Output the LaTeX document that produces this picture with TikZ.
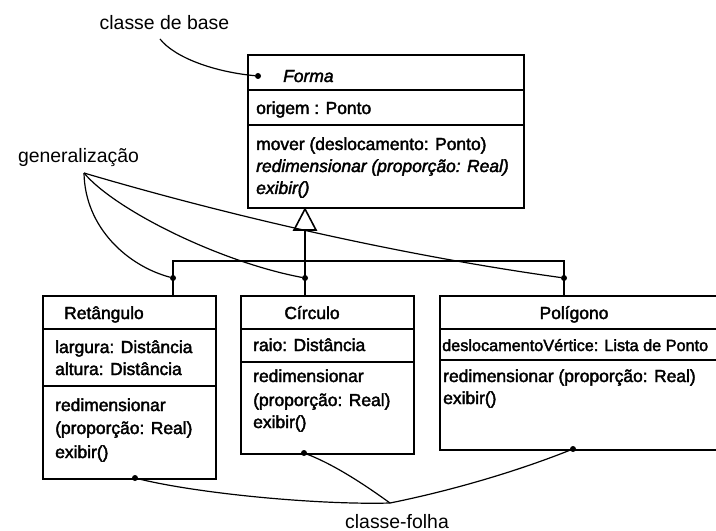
\documentclass[tikz,border=0pt]{standalone}
\usepackage{fontspec}
\setmainfont{Liberation Sans}
\newfontfamily\boxfont[FakeBold=2.2]{Liberation Sans}
\begin{document}
\begin{tikzpicture}[x=1bp,y=-1bp,
  box/.style={draw, line width=1.8bp, inner sep=0pt, anchor=north west},
  sep/.style={line width=1.4bp},
  conn/.style={line width=1.2bp},
  bar/.style={line width=1.8bp},
  dotm/.style={circle, fill, inner sep=0pt, minimum size=6bp},
  txt/.style={font=\boxfont\fontsize{17.5}{22}\selectfont, inner sep=0pt, anchor=base west},
  ttl/.style={font=\boxfont\fontsize{17.5}{22}\selectfont, inner sep=0pt, anchor=base},
  lbl/.style={font=\fontsize{19.5}{22}\selectfont, inner sep=0pt, anchor=base}]
\clip (0,0) rectangle (716,531);

% ---- Forma
\node[box, minimum width=276bp, minimum height=153bp] (forma) at (247,54) {};
\draw[sep] (247,90) -- (523,90);
\draw[sep] (247,125) -- (523,125);
\node[dotm] (dotF) at (258,76) {};
\node[txt] (tForma) at (283,82) {\itshape Forma};
\node[txt] (tOrig) at (256,114) {origem : Ponto};
\node[txt] (tMover) at (256,150) {mover (deslocamento: Ponto)};
\node[txt] (tRedF) at (256,172) {\itshape redimensionar (proporção: Real)};
\node[txt] (tExF) at (256,194) {\itshape exibir()};

% ---- Retangulo
\node[box, minimum width=173bp, minimum height=183bp] (ret) at (42,295) {};
\draw[sep] (42,329) -- (215,329);
\draw[sep] (42,386) -- (215,386);
\node[txt] (tRet) at (64,319) {Retângulo};
\node[txt] (tLarg) at (55,353) {largura: Distância};
\node[txt] (tAlt) at (55,375) {altura: Distância};
\node[txt] (tRedR) at (55,411) {redimensionar};
\node[txt] (tPropR) at (55,434) {(proporção: Real)};
\node[txt] (tExR) at (55,458) {exibir()};

% ---- Circulo
\node[box, minimum width=173bp, minimum height=158bp] (circ) at (240,295) {};
\draw[sep] (240,329) -- (413,329);
\draw[sep] (240,362) -- (413,362);
\node[ttl] (tCirc) at (312,319) {Círculo};
\node[txt] (tRaio) at (253,351) {raio: Distância};
\node[txt] (tRedC) at (253,382) {redimensionar};
\node[txt] (tPropC) at (253,406) {(proporção: Real)};
\node[txt] (tExC) at (253,428) {exibir()};

% ---- Poligono
\node[box, minimum width=290bp, minimum height=154bp] (poli) at (439,295) {};
\draw[sep] (439,329) -- (729,329);
\draw[sep] (439,360) -- (729,360);
\node[ttl] (tPoli) at (574,319) {Polígono};
\node[txt, font=\boxfont\fontsize{16.3}{22}\selectfont] (tDesl) at (442,351) {deslocamentoVértice: Lista de Ponto};
\node[txt] (tRedP) at (443,382) {redimensionar (proporção: Real)};
\node[txt] (tExP) at (443,404) {exibir()};

% ---- generalization tree
\coordinate (apex) at (305,209);
\coordinate (tbase) at (305,230);
\coordinate (jn) at (305,261);
\node[dotm] (dotR) at (173,278) {};
\node[dotm] (dotC) at (305,278) {};
\node[dotm] (dotP) at (564,278) {};
\draw[bar] (tbase) -- (jn);
\draw[bar] (dotR.center |- ret.north) -- (dotR.center |- jn) -- (dotP.center |- jn) -- (dotP.center |- poli.north);
\draw[bar] (jn) -- (dotC.center |- circ.north);
\draw[conn, line width=1.6bp, fill=white, line join=miter] (apex) -- (316,230) -- (294,230) -- cycle;

% ---- labels
\node[lbl] (lBase) at (164.5,30) {classe de base};
\node[lbl] (lGen) at (78.5,163) {generalização};
\node[lbl] (lLeaf) at (397,528) {classe-folha};
\coordinate (baseS) at (160,39);
\coordinate (genS) at (84,173);
\coordinate (leafS) at (390,503);

\draw[conn] (baseS) .. controls (175,58) and (215,72) .. (dotF);
\draw[conn] (genS) .. controls (85,228) and (128,266) .. (dotR);
\draw[conn] (genS) .. controls (115,210) and (220,262) .. (dotC);
\draw[conn] (genS) .. controls (250,222) and (420,258) .. (dotP);

\node[dotm] (dotLR) at (135,478) {};
\node[dotm] (dotLC) at (304,453) {};
\node[dotm] (dotLP) at (573,449) {};
\draw[conn] (dotLR) .. controls (200,494) and (320,505) .. (leafS);
\draw[conn] (dotLC) .. controls (335,465) and (365,485) .. (leafS);
\draw[conn] (dotLP) .. controls (500,478) and (430,495) .. (leafS);
\end{tikzpicture}
\end{document}
